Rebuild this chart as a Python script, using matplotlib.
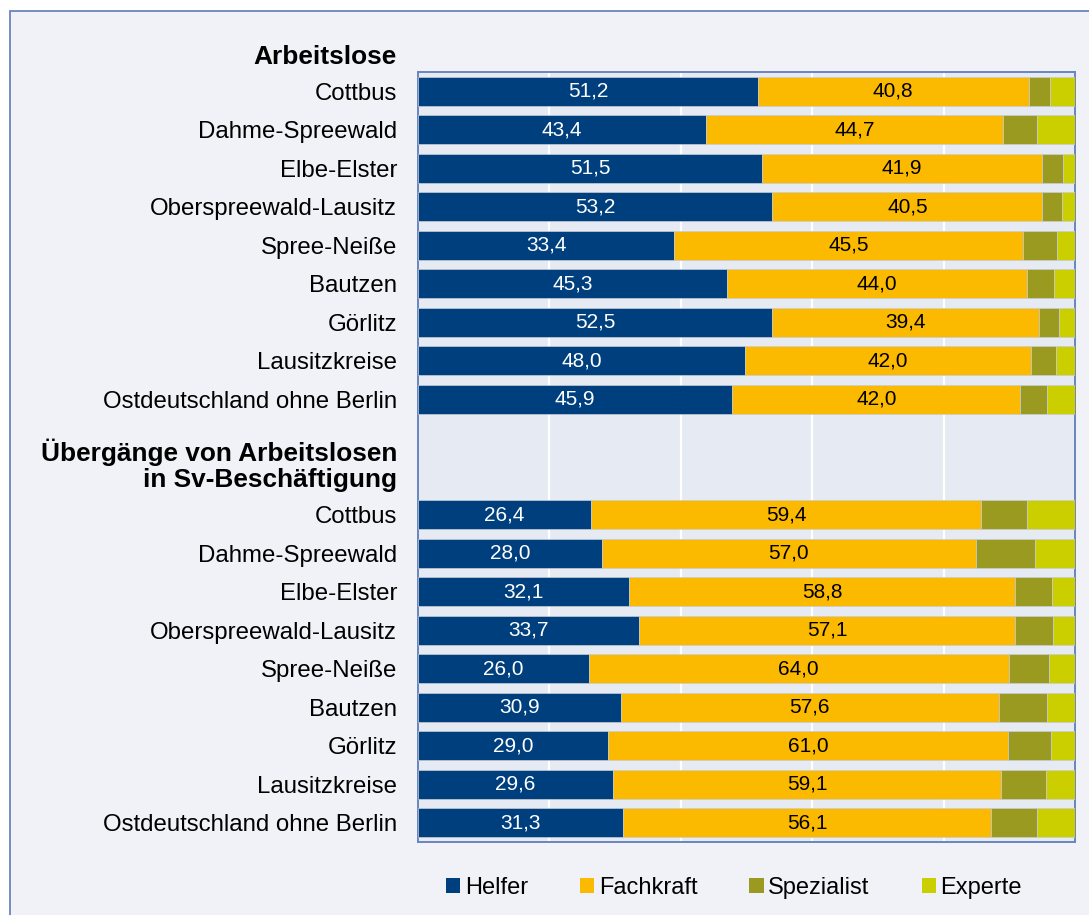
'''
Anforderungsniveau: Arbeitslose und Übergänge in Sv-Beschäftigung, Lausitzkreise
'''
import numpy as np
import matplotlib.pyplot as plt
from matplotlib.patches import Patch, Rectangle

plt.rcParams['font.family'] = ['Liberation Sans', 'DejaVu Sans']

regions = ['Cottbus', 'Dahme-Spreewald', 'Elbe-Elster', 'Oberspreewald-Lausitz',
           'Spree-Neiße', 'Bautzen', 'Görlitz', 'Lausitzkreise', 'Ostdeutschland ohne Berlin']
series = ['Helfer', 'Fachkraft', 'Spezialist', 'Experte']
colors = ['#003f7d', '#fbb900', '#9b9a20', '#cbcf00']

# Arbeitslose (Anteile in %, Rest = keine Angabe)
al_helfer = [51.2, 43.4, 51.5, 53.2, 33.4, 45.3, 52.5, 48.0, 45.9]
al_fachkraft = [40.8, 44.7, 41.9, 40.5, 45.5, 44.0, 39.4, 42.0, 42.0]
al_spezialist = [3.2, 5.1, 3.1, 2.9, 4.4, 4.0, 3.0, 3.7, 3.9]
al_experte = [3.8, 5.7, 1.8, 2.0, 2.4, 3.1, 2.4, 2.8, 4.1]

# Übergänge von Arbeitslosen in Sv-Beschäftigung
ue_helfer = [26.4, 28.0, 32.1, 33.7, 26.0, 30.9, 29.0, 29.6, 31.3]
ue_fachkraft = [59.4, 57.0, 58.8, 57.1, 64.0, 57.6, 61.0, 59.1, 56.1]
ue_spezialist = [7.0, 9.0, 5.6, 5.9, 6.1, 7.3, 6.5, 6.8, 7.0]
ue_experte = [7.3, 6.1, 3.5, 3.3, 4.0, 4.3, 3.7, 4.4, 5.8]

fig = plt.figure(figsize=(10.89, 9.15), dpi=100, facecolor='white')
# outer panel (cut off right / bottom like the original)
fig.patches.append(Rectangle((10 / 1089, -0.05), 1.2, 1 - 11 / 915 + 0.05,
                             transform=fig.transFigure, facecolor='#f0f2f7',
                             edgecolor='#6a86bf', lw=1.3, zorder=-5))

ax = fig.add_axes([418 / 1089, 1 - 842 / 915, 657 / 1089, 770 / 915])
ax.set_facecolor('#e6eaf2')

groups = [(0, [al_helfer, al_fachkraft, al_spezialist, al_experte]),
          (11, [ue_helfer, ue_fachkraft, ue_spezialist, ue_experte])]

for start, data in groups:
    data = np.array(data, dtype=float)
    shares = data / data.sum(axis=0) * 100   # 100 % gestapelt
    ypos = np.arange(start, start + len(regions))
    left = np.zeros(len(regions))
    for k in range(len(series)):
        ax.barh(ypos, shares[k], left=left, height=0.76, color=colors[k],
                edgecolor='#c8ccd4', lw=0.5, zorder=3)
        if k < 2:
            for y, l, w, v in zip(ypos, left, shares[k], data[k]):
                ax.text(l + w / 2, y, f'{v:.1f}'.replace('.', ','), ha='center', va='center',
                        fontsize=15, color='white' if k == 0 else 'black', zorder=4)
        left += shares[k]

ax.set_xlim(0, 100)
ax.set_ylim(19.5, -0.5)
ax.set_xticks([20, 40, 60, 80])
ax.xaxis.grid(True, color='white', lw=1.6, zorder=1)
ax.set_axisbelow(True)
ax.tick_params(axis='x', length=0, labelbottom=False)

yt = list(range(0, 9)) + list(range(11, 20))
ax.set_yticks(yt)
ax.set_yticklabels(regions + regions, fontsize=17.3)
ax.tick_params(axis='y', length=0, pad=15)

for s in ax.spines.values():
    s.set_color('#6a86bf')
    s.set_linewidth(1.4)

# group headers
ax.annotate('Arbeitslose', xy=(0, -0.89), xycoords=('axes fraction', 'data'),
            xytext=(-21, 0), textcoords='offset pixels', ha='right', va='center',
            fontsize=18.9, fontweight='bold', annotation_clip=False)
ax.annotate('Übergänge von Arbeitslosen\nin Sv-Beschäftigung', xy=(0, 9.71),
            xycoords=('axes fraction', 'data'), xytext=(-21, 0), textcoords='offset pixels',
            ha='right', va='center', multialignment='right', linespacing=1.1,
            fontsize=18.9, fontweight='bold', annotation_clip=False)

handles = [Patch(facecolor=c, edgecolor='none') for c in colors]
fig.legend(handles, series, loc='center', bbox_to_anchor=(734 / 1089, 1 - 888 / 915),
           ncol=4, frameon=False, fontsize=17, handlelength=0.6, handleheight=0.6,
           handletextpad=0.2, columnspacing=2.2)

fig.savefig('out.png', dpi=100, facecolor=fig.get_facecolor())
